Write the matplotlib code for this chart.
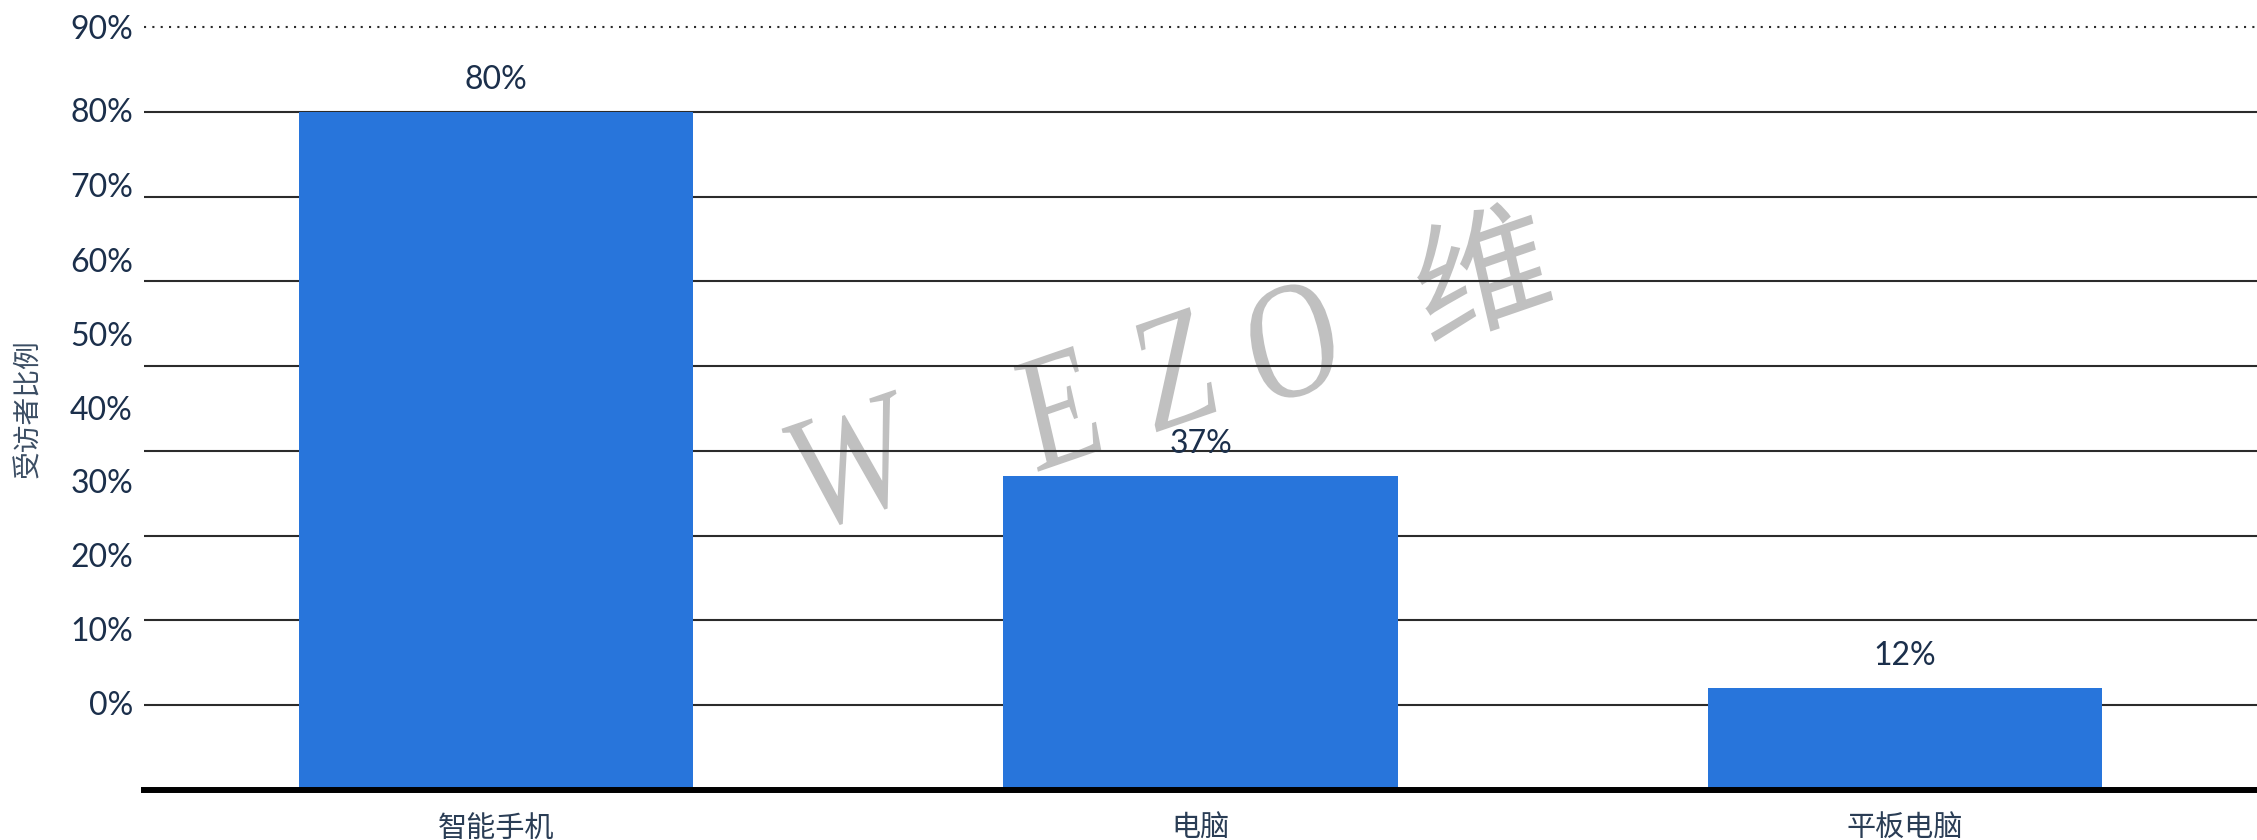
import numpy as np
import matplotlib
matplotlib.use('Agg')
import matplotlib.pyplot as plt
from matplotlib.textpath import TextPath
from matplotlib.font_manager import FontProperties
from matplotlib.patches import PathPatch
from matplotlib.transforms import Affine2D, IdentityTransform

# ---------------- data ----------------
categories = ['智能手机', '电脑', '平板电脑']
shares = [80, 37, 12]
value_labels = ['80%', '37%', '12%']
# horizontal rules (solid) and the dotted top rule
grid_values = [10, 20, 30, 40, 50, 60, 70, 80]
top_rule = 90
# the y tick labels do not sit on the rules in the original
tick_positions = [10.3, 19.0, 27.7, 36.4, 45.1, 53.8, 62.5, 71.4, 80.2, 90.0]
tick_labels = ['0%', '10%', '20%', '30%', '40%', '50%', '60%', '70%', '80%', '90%']
y_label = '受访者比例'
# watermark glyphs: (char, centre x px, centre y px from top, x factor, y factor)
watermark = [('W', 851, 463, 1.0, 1.0), ('E', 1058, 408, 1.0, 1.0),
             ('Z', 1175, 369, 1.0, 1.0), ('O', 1292, 341, 1.0, 1.0),
             ('维', 1481, 271, 1.09, 0.8)]
###############################################################

bar_color = '#2875db'
text_color = '#1b2f4b'

plt.rcParams['font.family'] = ['Lato', 'Noto Sans CJK SC', 'DejaVu Sans']

W_PX, H_PX = 2257, 840
fig = plt.figure(figsize=(W_PX / 100, H_PX / 100), dpi=100)
ax = fig.add_axes([144 / W_PX, (H_PX - 790) / H_PX, (W_PX - 144) / W_PX, 763 / H_PX])

x = np.arange(len(categories))
ax.bar(x, shares, width=0.56, color=bar_color, zorder=2)

for g in grid_values:
    ax.axhline(g, color='#2b2b2b', lw=1.5, zorder=1)
ax.axhline(top_rule, color='#2b2b2b', lw=1.5, ls=(0, (1, 3)), zorder=1, clip_on=False)
ax.axhline(0, color='black', lw=4.3, zorder=3, clip_on=False)

for xi, v, lbl in zip(x, shares, value_labels):
    ax.annotate(lbl, (xi, v), xytext=(0, 23), textcoords='offset points',
                ha='center', va='center', fontsize=23, color=text_color)

ax.set_xlim(-0.5, 2.5)
ax.set_ylim(0, 90)
ax.set_yticks(tick_positions, tick_labels)
ax.set_xticks(x, categories)
ax.tick_params(axis='y', length=0, pad=8, labelsize=23, labelcolor=text_color)
ax.tick_params(axis='x', length=0, pad=17, labelsize=21, labelcolor='#2a3d55')
for t in ax.get_xticklabels():
    t.set_fontfamily(['Noto Sans CJK SC', 'DejaVu Sans'])
for s in ax.spines.values():
    s.set_visible(False)

fig.text(28 / W_PX, 1 - 409 / H_PX, y_label, rotation=90, ha='center', va='center',
         fontsize=20, color='#3b4d63', family=['Noto Sans CJK SC', 'DejaVu Sans'])

# slanted grey watermark: tall narrow glyphs, baseline turned ~19 deg, stems ~13 deg
A, B = 128, 165
ax_ang, stem_ang = np.deg2rad(19), np.deg2rad(13)
for ch, cx, cy, fx, fy in watermark:
    fam = 'Liberation Serif' if ch.isascii() else 'Noto Sans CJK SC'
    tp = TextPath((0, 0), ch, size=1, prop=FontProperties(family=fam))
    ext = tp.get_extents()
    m = np.array([[np.cos(ax_ang) * A * fx, -np.sin(stem_ang) * B * fy, 0],
                  [np.sin(ax_ang) * A * fx, np.cos(stem_ang) * B * fy, 0],
                  [0, 0, 1]])
    tr = (Affine2D().translate(-(ext.x0 + ext.x1) / 2, -(ext.y0 + ext.y1) / 2)
          + Affine2D(m) + Affine2D().translate(cx, H_PX - cy))
    patch = PathPatch(tr.transform_path(tp), facecolor='#c0c0c0', edgecolor='none',
                      transform=IdentityTransform(), zorder=0.5, clip_on=False)
    ax.add_artist(patch)

fig.savefig('out.png', dpi=100)
